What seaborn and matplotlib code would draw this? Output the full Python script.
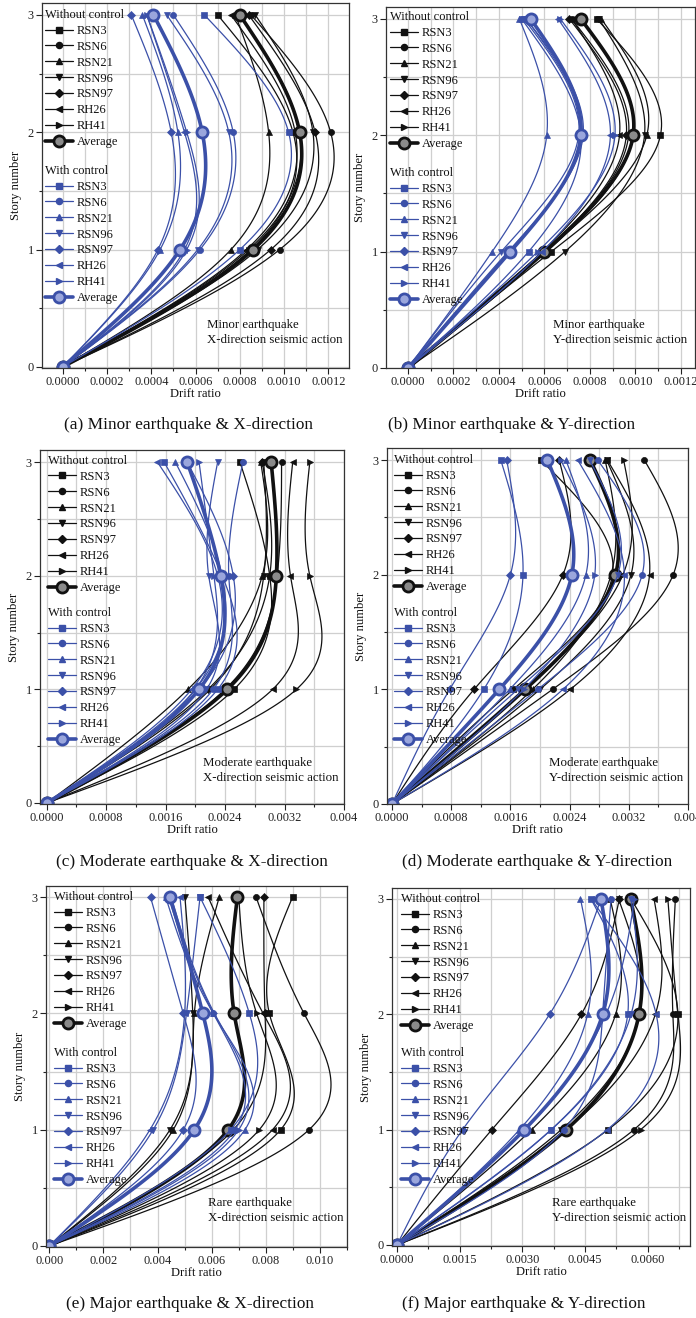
import matplotlib

matplotlib.use("Agg", force=True)
import matplotlib.pyplot as plt
import numpy as np
import seaborn as sns
from matplotlib.lines import Line2D
from matplotlib.ticker import FixedFormatter, FixedLocator, MultipleLocator

W, H = 696, 1318

STORIES = [0, 1, 2, 3]
RECORDS = ["RSN3", "RSN6", "RSN21", "RSN96", "RSN97", "RH26", "RH41"]
MARKERS = ["s", "o", "^", "v", "D", "<", ">"]

BLACK = "#111111"
BLUE = "#3b50a8"

# drift ratio at stories 1, 2, 3 (story 0 is zero); rows follow RECORDS
A_WITHOUT = [
    [0.00085, 0.00104, 0.00070],
    [0.00098, 0.00121, 0.00085],
    [0.00076, 0.00093, 0.00078],
    [0.00088, 0.00113, 0.00087],
    [0.00094, 0.00114, 0.00084],
    [0.00083, 0.00105, 0.00076],
    [0.00084, 0.00107, 0.00080],
]
A_WITHOUT_AVG = [0.00086, 0.00107, 0.00080]
A_WITH = [
    [0.00080, 0.00102, 0.00064],
    [0.00062, 0.00077, 0.00050],
    [0.00044, 0.00052, 0.00036],
    [0.00061, 0.00075, 0.00047],
    [0.00043, 0.00049, 0.00031],
    [0.00055, 0.00055, 0.00038],
    [0.00056, 0.00056, 0.00038],
]
A_WITH_AVG = [0.00053, 0.00063, 0.00041]

B_WITHOUT = [
    [0.00063, 0.00111, 0.00083],
    [0.00060, 0.00097, 0.00072],
    [0.00060, 0.00105, 0.00085],
    [0.00069, 0.00104, 0.00084],
    [0.00060, 0.00096, 0.00071],
    [0.00059, 0.00093, 0.00072],
    [0.00061, 0.00099, 0.00076],
]
B_WITHOUT_AVG = [0.00060, 0.00099, 0.00076]
B_WITH = [
    [0.00053, 0.00076, 0.00050],
    [0.00045, 0.00076, 0.00052],
    [0.00037, 0.00061, 0.00049],
    [0.00041, 0.00075, 0.00051],
    [0.00044, 0.00077, 0.00052],
    [0.00059, 0.00089, 0.00066],
    [0.00057, 0.00091, 0.00067],
]
B_WITH_AVG = [0.00045, 0.00076, 0.00054]

C_WITHOUT = [
    [0.00252, 0.00300, 0.00260],
    [0.00240, 0.00310, 0.00316],
    [0.00190, 0.00290, 0.00288],
    [0.00220, 0.00292, 0.00292],
    [0.00217, 0.00300, 0.00290],
    [0.00304, 0.00328, 0.00331],
    [0.00336, 0.00354, 0.00354],
]
C_WITHOUT_AVG = [0.00243, 0.00309, 0.00302]
C_WITH = [
    [0.00230, 0.00236, 0.00158],
    [0.00224, 0.00245, 0.00264],
    [0.00200, 0.00236, 0.00173],
    [0.00215, 0.00218, 0.00230],
    [0.00205, 0.00251, 0.00189],
    [0.00195, 0.00230, 0.00149],
    [0.00200, 0.00225, 0.00205],
]
C_WITH_AVG = [0.00205, 0.00234, 0.00189]

D_WITHOUT = [
    [0.00164, 0.00298, 0.00201],
    [0.00217, 0.00380, 0.00341],
    [0.00190, 0.00296, 0.00288],
    [0.00200, 0.00323, 0.00290],
    [0.00111, 0.00231, 0.00226],
    [0.00241, 0.00348, 0.00291],
    [0.00180, 0.00312, 0.00313],
]
D_WITHOUT_AVG = [0.00180, 0.00302, 0.00268]
D_WITH = [
    [0.00124, 0.00177, 0.00147],
    [0.00197, 0.00338, 0.00278],
    [0.00159, 0.00262, 0.00235],
    [0.00170, 0.00305, 0.00267],
    [0.00078, 0.00160, 0.00155],
    [0.00231, 0.00314, 0.00251],
    [0.00178, 0.00274, 0.00228],
]
D_WITH_AVG = [0.00145, 0.00243, 0.00210]

E_WITHOUT = [
    [0.00855, 0.00813, 0.00899],
    [0.00960, 0.00941, 0.00764],
    [0.00458, 0.00536, 0.00628],
    [0.00446, 0.00530, 0.00501],
    [0.00680, 0.00797, 0.00793],
    [0.00825, 0.00790, 0.00587],
    [0.00776, 0.00766, 0.00700],
]
E_WITHOUT_AVG = [0.00661, 0.00683, 0.00695]
E_WITH = [
    [0.00670, 0.00739, 0.00557],
    [0.00686, 0.00606, 0.00440],
    [0.00723, 0.00606, 0.00430],
    [0.00384, 0.00507, 0.00557],
    [0.00495, 0.00495, 0.00374],
    [0.00372, 0.00500, 0.00483],
    [0.00700, 0.00610, 0.00450],
]
E_WITH_AVG = [0.00536, 0.00567, 0.00446]

F_WITHOUT = [
    [0.00505, 0.00672, 0.00560],
    [0.00567, 0.00660, 0.00666],
    [0.00322, 0.00523, 0.00510],
    [0.00393, 0.00580, 0.00530],
    [0.00227, 0.00441, 0.00532],
    [0.00405, 0.00618, 0.00615],
    [0.00583, 0.00672, 0.00648],
]
F_WITHOUT_AVG = [0.00405, 0.00579, 0.00559]
F_WITH = [
    [0.00369, 0.00552, 0.00464],
    [0.00399, 0.00492, 0.00512],
    [0.00293, 0.00456, 0.00439],
    [0.00369, 0.00560, 0.00560],
    [0.00157, 0.00365, 0.00488],
    [0.00503, 0.00620, 0.00464],
    [0.00305, 0.00500, 0.00568],
]
F_WITH_AVG = [0.00305, 0.00492, 0.00488]

TICKS_MINOR = [0, 0.0002, 0.0004, 0.0006, 0.0008, 0.0010, 0.0012]
LABELS_MINOR = ["0.0000", "0.0002", "0.0004", "0.0006", "0.0008", "0.0010", "0.0012"]
TICKS_MODERATE = [0, 0.0008, 0.0016, 0.0024, 0.0032, 0.004]
LABELS_MODERATE = ["0.0000", "0.0008", "0.0016", "0.0024", "0.0032", "0.004"]
TICKS_MAJOR_X = [0, 0.002, 0.004, 0.006, 0.008, 0.010]
LABELS_MAJOR_X = ["0.000", "0.002", "0.004", "0.006", "0.008", "0.010"]
TICKS_MAJOR_Y = [0, 0.0015, 0.0030, 0.0045, 0.0060]
LABELS_MAJOR_Y = ["0.0000", "0.0015", "0.0030", "0.0045", "0.0060"]

PANELS = [
    dict(rect=(42, 3, 349, 368), xlim=(-0.0000935, 0.001293), ylim=(-0.01, 3.102),
         data=(A_WITHOUT, A_WITHOUT_AVG, A_WITH, A_WITH_AVG),
         ticks=TICKS_MINOR, labels=LABELS_MINOR, minor=0.0001,
         note=("Minor earthquake", "X-direction seismic action"), note_xy=(207, 325),
         caption="(a) Minor earthquake & X-direction", cap_xy=(189, 425),
         leg_x=45, leg1_y=9, leg2_y=165),
    dict(rect=(386, 7, 695, 368), xlim=(-0.0000967, 0.001262), ylim=(0.0, 3.103),
         data=(B_WITHOUT, B_WITHOUT_AVG, B_WITH, B_WITH_AVG),
         ticks=TICKS_MINOR, labels=LABELS_MINOR, minor=0.0001,
         note=("Minor earthquake", "Y-direction seismic action"), note_xy=(553, 325),
         caption="(b) Minor earthquake & Y-direction", cap_xy=(512, 425),
         leg_x=390, leg1_y=11, leg2_y=167),
    dict(rect=(40, 450, 344, 804), xlim=(-0.00009, 0.004), ylim=(-0.009, 3.106),
         data=(C_WITHOUT, C_WITHOUT_AVG, C_WITH, C_WITH_AVG),
         ticks=TICKS_MODERATE, labels=LABELS_MODERATE, minor=0.0004,
         note=("Moderate earthquake", "X-direction seismic action"), note_xy=(203, 763),
         caption="(c) Moderate earthquake & X-direction", cap_xy=(192, 862),
         leg_x=48, leg1_y=455, leg2_y=607),
    dict(rect=(387, 448, 688, 804), xlim=(-0.0000676, 0.004), ylim=(0.0, 3.105),
         data=(D_WITHOUT, D_WITHOUT_AVG, D_WITH, D_WITH_AVG),
         ticks=TICKS_MODERATE, labels=LABELS_MODERATE, minor=0.0004,
         note=("Moderate earthquake", "Y-direction seismic action"), note_xy=(549, 763),
         caption="(d) Moderate earthquake & Y-direction", cap_xy=(537, 862),
         leg_x=394, leg1_y=454, leg2_y=607),
    dict(rect=(46, 886, 347, 1247), xlim=(-0.000122, 0.011), ylim=(-0.009, 3.095),
         data=(E_WITHOUT, E_WITHOUT_AVG, E_WITH, E_WITH_AVG),
         ticks=TICKS_MAJOR_X, labels=LABELS_MAJOR_X, minor=0.001,
         note=("Rare earthquake", "X-direction seismic action"), note_xy=(208, 1203),
         caption="(e) Major earthquake & X-direction", cap_xy=(190, 1304),
         leg_x=54, leg1_y=891, leg2_y=1047),
    dict(rect=(392, 888, 690, 1246), xlim=(-0.00012, 0.00701), ylim=(-0.009, 3.095),
         data=(F_WITHOUT, F_WITHOUT_AVG, F_WITH, F_WITH_AVG),
         ticks=TICKS_MAJOR_Y, labels=LABELS_MAJOR_Y, minor=0.00075,
         note=("Rare earthquake", "Y-direction seismic action"), note_xy=(552, 1203),
         caption="(f) Major earthquake & Y-direction", cap_xy=(524, 1304),
         leg_x=401, leg1_y=893, leg2_y=1047),
]


def spline(values, n=40):
    # natural cubic spline of drift vs story, only used to draw the smooth connector
    x = np.r_[0.0, values]
    d = 6 * (x[2:] - 2 * x[1:-1] + x[:-2])
    m = np.r_[0.0, np.linalg.solve([[4.0, 1.0], [1.0, 4.0]], d), 0.0]
    xs, ys = [], []
    t = np.linspace(0, 1, n)
    for i in range(3):
        xs.append((1 - t) * x[i] + t * x[i + 1]
                  + ((1 - t) ** 3 - (1 - t)) * m[i] / 6 + (t ** 3 - t) * m[i + 1] / 6)
        ys.append(i + t)
    return np.concatenate(xs), np.concatenate(ys)


def series_style(color, marker, average):
    if average:
        face = "#8a8a8a" if color == BLACK else "#9aa6dc"
        return dict(color=color, lw=2.6, marker="o", ms=8, mfc=face, mec=color, mew=2.0)
    return dict(color=color, lw=0.9, marker=marker, ms=4.4 if marker != "D" else 3.8,
                mfc=color, mec=color, mew=0.5)


def draw_series(ax, values, style):
    xs, ys = spline(values)
    sns.lineplot(x=xs, y=ys, sort=False, estimator=None, color=style["color"],
                 lw=style["lw"], ax=ax, legend=False)
    ax.plot([0.0] + list(values), STORIES, ls="none", marker=style["marker"], ms=style["ms"],
            mfc=style["mfc"], mec=style["mec"], mew=style["mew"])


def handles(color):
    out = []
    for marker in MARKERS:
        st = series_style(color, marker, False)
        out.append(Line2D([], [], color=color, lw=st["lw"], marker=marker, ms=st["ms"],
                          mfc=st["mfc"], mec=st["mec"]))
    st = series_style(color, "o", True)
    out.append(Line2D([], [], color=color, lw=st["lw"], marker="o", ms=st["ms"],
                      mfc=st["mfc"], mec=st["mec"], mew=st["mew"]))
    return out


def fx(px):
    return px / W


def fy(py):
    return 1 - py / H


def draw_panel(fig, spec):
    l, t, r, b = spec["rect"]
    ax = fig.add_axes([fx(l), fy(b), (r - l) / W, (b - t) / H])
    without, without_avg, with_c, with_avg = spec["data"]

    for values, marker in zip(without, MARKERS):
        draw_series(ax, values, series_style(BLACK, marker, False))
    draw_series(ax, without_avg, series_style(BLACK, "o", True))
    for values, marker in zip(with_c, MARKERS):
        draw_series(ax, values, series_style(BLUE, marker, False))
    draw_series(ax, with_avg, series_style(BLUE, "o", True))

    ax.set_xlim(*spec["xlim"])
    ax.set_ylim(*spec["ylim"])
    ax.xaxis.set_major_locator(FixedLocator(spec["ticks"]))
    ax.xaxis.set_major_formatter(FixedFormatter(spec["labels"]))
    ax.xaxis.set_minor_locator(MultipleLocator(spec["minor"]))
    ax.yaxis.set_major_locator(FixedLocator(STORIES))
    ax.yaxis.set_minor_locator(MultipleLocator(0.5))
    ax.grid(True, which="both", color="#cfcfcf", lw=0.9)
    ax.set_axisbelow(True)
    ax.tick_params(which="major", direction="out", length=4, width=0.8, labelsize=8.9, pad=2)
    ax.tick_params(which="minor", direction="out", length=2.5, width=0.8)
    for side in ax.spines.values():
        side.set_color("#333333")
        side.set_linewidth(0.9)
    ax.set_xlabel("Drift ratio", fontsize=9.1, labelpad=0)
    ax.set_ylabel("Story number", fontsize=9.1, labelpad=4)

    common = dict(loc="upper left", frameon=False, fontsize=9, title_fontsize=9,
                  alignment="left", borderpad=0, borderaxespad=0, labelspacing=0.31,
                  handlelength=2.25, handletextpad=0.32, bbox_transform=fig.transFigure)
    labels = RECORDS + ["Average"]
    leg1 = ax.legend(handles(BLACK), labels, title="Without control",
                     bbox_to_anchor=(fx(spec["leg_x"]), fy(spec["leg1_y"])), **common)
    ax.add_artist(leg1)
    ax.legend(handles(BLUE), labels, title="With control",
              bbox_to_anchor=(fx(spec["leg_x"]), fy(spec["leg2_y"])), **common)

    nx, ny = spec["note_xy"]
    fig.text(fx(nx), fy(ny), spec["note"][0], fontsize=9.3, va="center", ha="left")
    fig.text(fx(nx), fy(ny + 15), spec["note"][1], fontsize=9.3, va="center", ha="left")
    cx, cy = spec["cap_xy"]
    fig.text(fx(cx), fy(cy), spec["caption"], fontsize=12.4, va="center", ha="center")


def main():
    sns.set_theme(style="ticks")
    plt.rcParams["font.family"] = ["Liberation Serif", "DejaVu Serif"]
    plt.rcParams["axes.unicode_minus"] = False
    plt.rcParams["text.color"] = "#111111"
    plt.rcParams["axes.labelcolor"] = "#111111"
    plt.rcParams["xtick.color"] = "#222222"
    plt.rcParams["ytick.color"] = "#222222"

    fig = plt.figure(figsize=(W / 100, H / 100), dpi=100)
    fig.patch.set_facecolor("white")
    for spec in PANELS:
        draw_panel(fig, spec)
    fig.savefig("out.png", dpi=100, facecolor="white")
    plt.close(fig)


if __name__ == "__main__":
    main()
